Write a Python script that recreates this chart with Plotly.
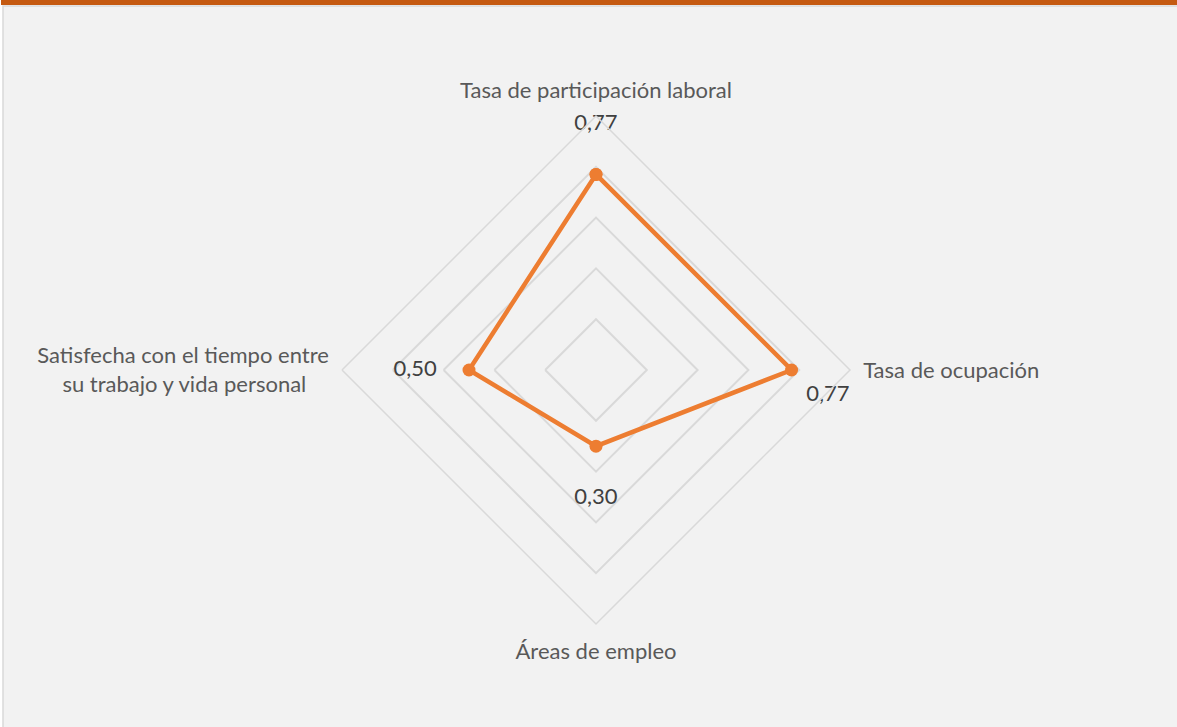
import plotly.graph_objects as go

# =========================================================
# Data
# =========================================================
NBSP = "\u00a0"
categories = [
    "Tasa de participación laboral",
    "Tasa de ocupación",
    "Áreas de empleo",
    "Satisfecha con el tiempo entre<br>su trabajo y vida personal" + NBSP * 4,
]
values = [0.77, 0.77, 0.30, 0.50]
value_labels = ["0,77", "0,77", "0,30", "0,50"]

ORANGE = "#ED7D31"
GRID = "#D9D9D9"
BG = "#F2F2F2"
FONT = "Lato, sans-serif"

# etiquetas separadas del punto (estilo Excel): el marcador invisible
# define la distancia del texto
label_pos = ["top center", "bottom right", "bottom center", "middle left"]
label_gap = [60, 22, 64, 50]

fig = go.Figure()

fig.add_trace(
    go.Scatterpolar(
        r=values + values[:1],
        theta=categories + categories[:1],
        mode="lines+markers",
        line=dict(color=ORANGE, width=4.5),
        marker=dict(size=13, color=ORANGE),
        hoverinfo="skip",
        showlegend=False,
    )
)

fig.add_trace(
    go.Scatterpolar(
        r=values,
        theta=categories,
        mode="markers+text",
        text=value_labels,
        textposition=label_pos,
        marker=dict(size=label_gap, opacity=0),
        textfont=dict(family=FONT, size=22, color="#404040"),
        hoverinfo="skip",
        showlegend=False,
    )
)

fig.update_layout(
    width=1177,
    height=727,
    paper_bgcolor="white",
    plot_bgcolor=BG,
    margin=dict(l=15, r=0, t=116, b=103),
    font=dict(family=FONT, size=22, color="#595959"),
    polar=dict(
        bgcolor="rgba(0,0,0,0)",
        gridshape="linear",
        radialaxis=dict(
            range=[0, 1],
            dtick=0.2,
            showticklabels=False,
            ticks="",
            showline=False,
            gridcolor=GRID,
            gridwidth=1.5,
        ),
        angularaxis=dict(
            direction="clockwise",
            rotation=90,
            showgrid=False,
            showline=True,
            linecolor=GRID,
            linewidth=1.5,
            ticks="outside",
            ticklen=8,
            tickcolor="rgba(0,0,0,0)",
            tickfont=dict(family=FONT, size=22, color="#595959"),
        ),
    ),
    shapes=[
        # fondo del área del gráfico con borde
        dict(
            type="rect",
            layer="below",
            xref="paper",
            yref="paper",
            xsizemode="pixel",
            ysizemode="pixel",
            xanchor=0,
            yanchor=1,
            x0=-12,
            x1=1200,
            y0=110,
            y1=-700,
            fillcolor=BG,
            line=dict(color=GRID, width=1.5),
        ),
        # barra naranja superior
        dict(
            type="rect",
            layer="above",
            xref="paper",
            yref="paper",
            xsizemode="pixel",
            ysizemode="pixel",
            xanchor=0,
            yanchor=1,
            x0=-14,
            x1=1200,
            y0=111,
            y1=130,
            fillcolor="#C55A11",
            line=dict(width=0),
        ),
    ],
)

fig.write_html(
    "out.html",
    config={"displayModeBar": False},
    post_script="document.body.style.margin='0';",
)
